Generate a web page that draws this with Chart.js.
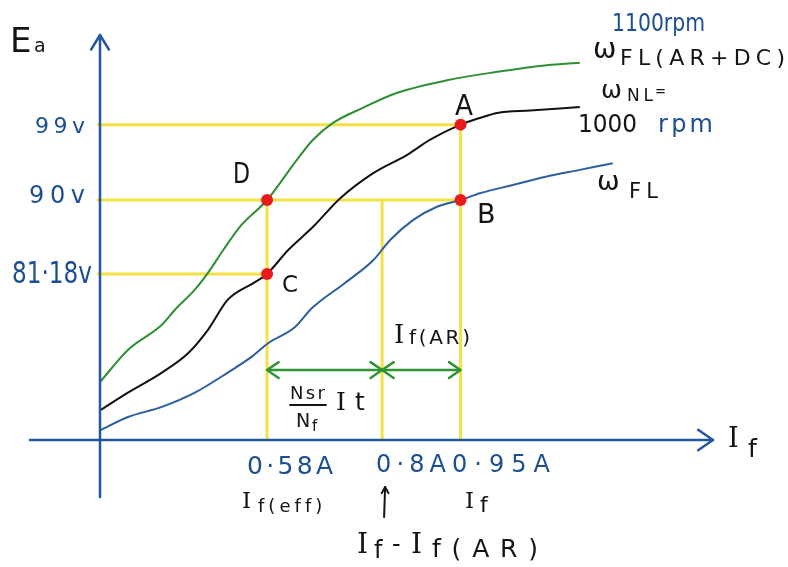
<!DOCTYPE html>
<html>
<head>
<meta charset="utf-8">
<script src="https://cdn.jsdelivr.net/npm/chart.js@4.4.1/dist/chart.umd.min.js"></script>
<style>
  html, body { margin: 0; padding: 0; background: #ffffff; }
  canvas { display: block; }
</style>
</head>
<body>
<canvas id="occ" width="788" height="567"></canvas>
<script>
// 直流发电机磁化曲线 Ea-If：空载 / 满载 / 满载(AR+DC)

// 坐标范围（横轴起点为纵轴所在位置）
const X_MIN = 0.2606, X_MAX = 1.4327;
const Y_MIN = 61.35, Y_MAX = 109.7;

// ωFL(AR+DC) 1100rpm —— 绿色
const ifGreen = [0.261, 0.314, 0.379, 0.404, 0.442, 0.467, 0.496, 0.528, 0.58, 0.637, 0.668, 0.706, 0.763, 0.829, 0.924, 1.020, 1.115, 1.178];
const eaGreen = [68.3, 72.1, 75.1, 76.9, 79.3, 81.3, 84.0, 86.8, 90.0, 94.8, 97.2, 99.2, 101.0, 102.8, 104.3, 105.3, 106.1, 106.4];

// ωNL = 1000rpm —— 黑色
const ifBlack = [0.261, 0.314, 0.379, 0.429, 0.467, 0.505, 0.557, 0.58, 0.620, 0.668, 0.720, 0.783, 0.848, 0.892, 0.95, 0.987, 1.020, 1.083, 1.178];
const eaBlack = [64.9, 67.0, 69.4, 71.7, 74.5, 78.1, 80.2, 81.18, 84.0, 86.8, 90.2, 93.2, 95.4, 97.2, 99.0, 99.8, 100.4, 100.7, 101.1];

// ωFL —— 蓝色
const ifBlue = [0.261, 0.314, 0.379, 0.442, 0.505, 0.551, 0.582, 0.633, 0.666, 0.729, 0.783, 0.815, 0.859, 0.905, 0.95, 0.987, 1.050, 1.115, 1.178, 1.241];
const eaBlue = [62.5, 64.1, 65.3, 67.0, 69.4, 71.3, 72.9, 74.8, 77.1, 80.1, 82.8, 85.2, 87.6, 89.2, 90.0, 90.8, 91.8, 92.8, 93.6, 94.4];

// 辅助黄线
const hGuideEa = [99, 90, 81.18];
const hGuideEnd = [0.95, 0.95, 0.58];
const vGuideIf = [0.58, 0.8, 0.95];
const vGuideTop = [90, 90, 99];

// 工作点 A B C D
const pointNames = ['A', 'B', 'C', 'D'];
const pointIf = [0.95, 0.95, 0.58, 0.58];
const pointEa = [99, 90, 81.18, 90];

// 刻度标注
const yTickValues = [99, 90, 81.18];
const yTickLabels = ['99v', '90v', '81·18v'];
const xTickValues = [0.58, 0.8, 0.95];
const xTickLabels = ['0·58A', '0·8A', '0·95A'];

// 绿色双箭头（Nsr/Nf·It 与 If(AR)）
const arrowEa = 69.7;
const arrowSpans = [[0.58, 0.8], [0.8, 0.95]];

const BLUE_TEXT = '#1d4f90';
const AXIS_BLUE = '#2357a0';
const INK = '#141414';
const YELLOW = '#f4e244';
const GREEN = '#2f9434';
const RED = '#e81b1b';
const HAND = '"DejaVu Sans", sans-serif';
const HAND_I = '"DejaVu Serif", serif';

function xy(xs, ys) {
  return xs.map(function(x, i) { return { x: x, y: ys[i] }; });
}

// 逐字排布文本，撑满给定宽度（或压缩到该宽度）
function handText(ctx, str, x, baseline, size, color, width, family) {
  ctx.save();
  ctx.font = size + 'px ' + (family || HAND);
  ctx.fillStyle = color;
  ctx.textAlign = 'left';
  ctx.textBaseline = 'alphabetic';
  var chars = Array.from(str);
  var natural = ctx.measureText(str).width;
  if (!width || chars.length < 2 || natural >= width) {
    if (width) ctx.fillText(str, x, baseline, width);
    else ctx.fillText(str, x, baseline);
    ctx.restore();
    return;
  }
  var gap = (width - natural) / (chars.length - 1);
  var cx = x;
  chars.forEach(function(ch) {
    ctx.fillText(ch, cx, baseline);
    cx += ctx.measureText(ch).width + gap;
  });
  ctx.restore();
}

function arrowHead(ctx, tipX, tipY, dirX, dirY, len, spread) {
  var ang = Math.atan2(dirY, dirX);
  ctx.beginPath();
  ctx.moveTo(tipX - len * Math.cos(ang - spread), tipY - len * Math.sin(ang - spread));
  ctx.lineTo(tipX, tipY);
  ctx.lineTo(tipX - len * Math.cos(ang + spread), tipY - len * Math.sin(ang + spread));
  ctx.stroke();
}

// 坐标轴、箭头与手写标注
const sketchPlugin = {
  id: 'sketch',
  afterDatasetsDraw: function(chart) {
    var ctx = chart.ctx;
    var xs = chart.scales.x, ys = chart.scales.y;
    var ox = xs.getPixelForValue(X_MIN);
    var oy = ys.getPixelForValue(Y_MIN);
    var top = ys.getPixelForValue(Y_MAX);
    var right = xs.getPixelForValue(X_MAX);

    ctx.save();
    ctx.lineCap = 'round';
    ctx.lineJoin = 'round';

    // 坐标轴
    ctx.strokeStyle = AXIS_BLUE;
    ctx.lineWidth = 2.5;
    ctx.beginPath();
    ctx.moveTo(ox, oy + 57);
    ctx.lineTo(ox, top);
    ctx.moveTo(ox - 70, oy);
    ctx.lineTo(right, oy);
    ctx.stroke();
    arrowHead(ctx, ox, top, 0, -1, 17, 0.55);
    arrowHead(ctx, right, oy, 1, 0, 18, 0.6);

    // 绿色双箭头
    ctx.strokeStyle = GREEN;
    ctx.lineWidth = 2.5;
    var ay = ys.getPixelForValue(arrowEa);
    arrowSpans.forEach(function(span) {
      var a = xs.getPixelForValue(span[0]);
      var b = xs.getPixelForValue(span[1]);
      arrowHead(ctx, a, ay, -1, 0, 14, 0.6);
      arrowHead(ctx, b, ay, 1, 0, 14, 0.6);
    });

    // 指向 0.8A 的箭头
    var p08 = xs.getPixelForValue(0.8);
    ctx.strokeStyle = INK;
    ctx.lineWidth = 2;
    ctx.beginPath();
    ctx.moveTo(p08 + 2, oy + 77);
    ctx.lineTo(p08 + 3, oy + 47);
    ctx.stroke();
    arrowHead(ctx, p08 + 3, oy + 47, 0, -1, 7, 0.5);

    // 分式横线
    ctx.lineWidth = 1.8;
    ctx.beginPath();
    ctx.moveTo(290, 405);
    ctx.lineTo(326, 405);
    ctx.stroke();
    ctx.restore();

    // 纵轴标题 Ea
    handText(ctx, 'E', 10, 52, 34, INK, 22);
    handText(ctx, 'a', 34, 52, 19, INK, 16);

    // 纵轴刻度
    var yPos = [[35, 133, 22, 50], [29, 203, 24, 56], [12, 283, 31, 80]];
    yTickLabels.forEach(function(t, i) {
      var p = yPos[i];
      handText(ctx, t, p[0], p[1], p[2], BLUE_TEXT, p[3]);
    });

    // 横轴刻度
    var xPos = [[247, 474, 25, 86], [376, 472, 24, 70], [452, 472, 24, 98]];
    xTickLabels.forEach(function(t, i) {
      var p = xPos[i];
      handText(ctx, t, p[0], p[1], p[2], BLUE_TEXT, p[3]);
    });

    // 工作点字母
    var lp = { A: [455, 115, 28, 18], B: [477, 223, 27, 20], C: [282, 292, 23, 16], D: [233, 183, 28, 17] };
    pointNames.forEach(function(n) {
      var p = lp[n];
      handText(ctx, n, p[0], p[1], p[2], INK, p[3]);
    });

    // 曲线名称
    handText(ctx, '1100rpm', 612, 31, 24, BLUE_TEXT, 93);
    handText(ctx, 'ω', 593, 58, 28, INK, 24);
    handText(ctx, 'FL(AR+DC)', 620, 65, 22, INK, 165);
    handText(ctx, 'ω', 601, 98, 25, INK, 24);
    handText(ctx, 'NL', 627, 101, 17, INK, 26);
    handText(ctx, '=', 655, 96, 14, INK, 11);
    handText(ctx, '1000', 578, 132, 24, INK, 59);
    handText(ctx, 'rpm', 658, 132, 24, BLUE_TEXT, 55);
    handText(ctx, 'ω', 597, 190, 27, INK, 28);
    handText(ctx, 'FL', 629, 198, 21, INK, 29);

    // 区间标注
    handText(ctx, 'I', 394, 343, 26, INK, 14, HAND_I);
    handText(ctx, 'f(AR)', 409, 344, 20, INK, 61);
    handText(ctx, 'Nsr', 290, 399, 18, INK, 35);
    handText(ctx, 'N', 296, 427, 19, INK, 15);
    handText(ctx, 'f', 312, 431, 15, INK, 10);
    handText(ctx, 'I', 336, 410, 25, INK, 14, HAND_I);
    handText(ctx, 't', 355, 410, 25, INK, 16);

    // 横轴下方说明
    handText(ctx, 'I', 242, 508, 23, INK, 15, HAND_I);
    handText(ctx, 'f(eff)', 258, 512, 18, INK, 64);
    handText(ctx, 'I', 465, 508, 23, INK, 15, HAND_I);
    handText(ctx, 'f', 480, 512, 22, INK, 13);
    handText(ctx, 'I', 357, 553, 28, INK, 17, HAND_I);
    handText(ctx, 'f', 374, 558, 24, INK, 15);
    handText(ctx, '-', 392, 552, 24, INK, 11);
    handText(ctx, 'I', 411, 553, 28, INK, 19, HAND_I);
    handText(ctx, 'f(AR)', 432, 557, 25, INK, 106);
    handText(ctx, 'I', 728, 447, 27, INK, 19, HAND_I);
    handText(ctx, 'f', 748, 457, 25, INK, 16);
  }
};

var datasets = [];

// 工作点
datasets.push({
  type: 'scatter',
  data: xy(pointIf, pointEa),
  pointRadius: 6,
  pointBackgroundColor: RED,
  pointBorderColor: RED,
  pointBorderWidth: 0,
  showLine: false,
  clip: false
});

// 三条磁化曲线
[[ifGreen, eaGreen, '#2e8f33'], [ifBlack, eaBlack, '#111111'], [ifBlue, eaBlue, '#2c5f9e']].forEach(function(c) {
  datasets.push({
    data: xy(c[0], c[1]),
    borderColor: c[2],
    borderWidth: 2,
    pointRadius: 0,
    cubicInterpolationMode: 'monotone',
    fill: false,
    clip: false
  });
});

// 双箭头主线
arrowSpans.forEach(function(span) {
  datasets.push({
    data: [{ x: span[0], y: arrowEa }, { x: span[1], y: arrowEa }],
    borderColor: GREEN,
    borderWidth: 2.5,
    pointRadius: 0,
    fill: false,
    clip: false
  });
});

// 黄色辅助线
hGuideEa.forEach(function(v, i) {
  datasets.push({
    data: [{ x: X_MIN - 0.006, y: v }, { x: hGuideEnd[i], y: v }],
    borderColor: YELLOW,
    borderWidth: 3,
    pointRadius: 0,
    fill: false,
    clip: false
  });
});
vGuideIf.forEach(function(v, i) {
  datasets.push({
    data: [{ x: v, y: vGuideTop[i] }, { x: v, y: Y_MIN }],
    borderColor: YELLOW,
    borderWidth: 3,
    pointRadius: 0,
    fill: false,
    clip: false
  });
});

new Chart(document.getElementById('occ').getContext('2d'), {
  type: 'line',
  data: { datasets: datasets },
  options: {
    responsive: false,
    animation: false,
    events: [],
    layout: { padding: { left: 100, right: 75, top: 35, bottom: 127 } },
    scales: {
      x: { type: 'linear', min: X_MIN, max: X_MAX, display: false },
      y: { type: 'linear', min: Y_MIN, max: Y_MAX, display: false }
    },
    plugins: {
      legend: { display: false },
      tooltip: { enabled: false }
    }
  },
  plugins: [sketchPlugin]
});
</script>
</body>
</html>
